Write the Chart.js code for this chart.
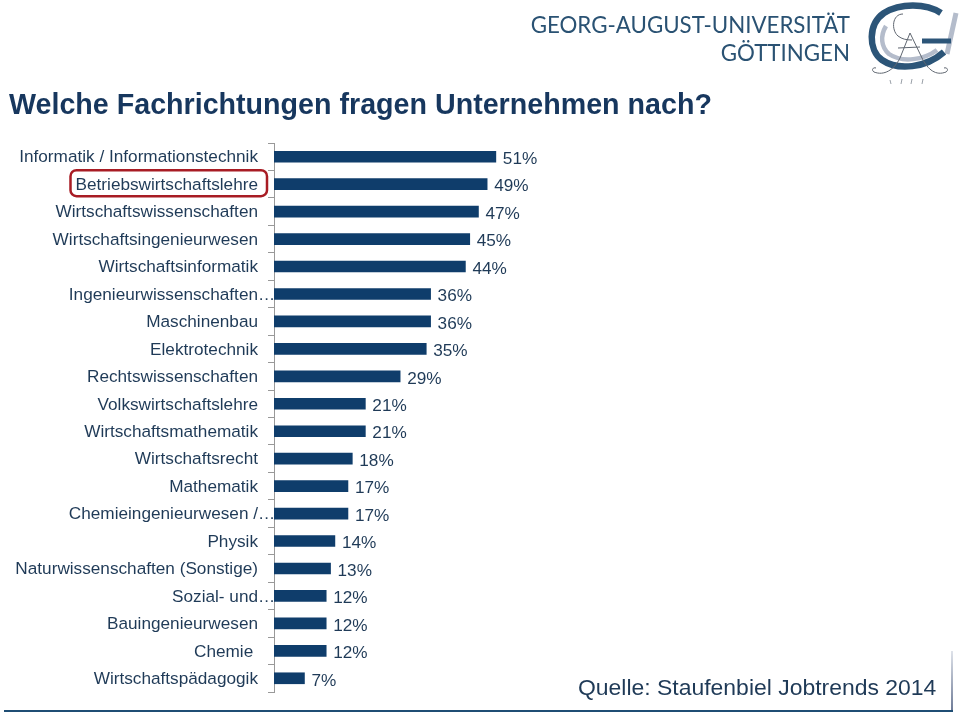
<!DOCTYPE html>
<html><head><meta charset="utf-8">
<script src="https://cdn.jsdelivr.net/npm/chart.js@4"></script>
<style>
html,body{margin:0;padding:0;background:#fff;width:960px;height:717px;overflow:hidden}
#wrap{position:absolute;left:0;top:0;width:960px;height:717px}
.t{position:absolute;white-space:nowrap;font-family:"Liberation Sans",Arial,sans-serif;line-height:1}
#title{left:9px;top:90px;font-size:28.65px;font-weight:bold;color:#17375e}
#src{left:578px;top:676px;font-size:22.95px;color:#1f3a57}
.uni{font-family:Lato,"Open Sans",sans-serif;color:#2a5273;text-align:right;right:110px}
#frameR{position:absolute;left:951px;top:651px;width:2px;height:60px;background:linear-gradient(#dfe3ea,#6d7a96)}
#frameB{position:absolute;left:4px;top:710px;width:949px;height:2px;background:#1f4e74}
svg{position:absolute;left:860px;top:0}
</style></head><body>
<div id="wrap"><canvas id="c" width="960" height="717"></canvas></div>
<div class="t" id="title">Welche Fachrichtungen fragen Unternehmen nach?</div>
<div class="t" id="src">Quelle: Staufenbiel Jobtrends 2014</div>
<div class="t uni" style="top:14px;font-size:22.3px">GEORG-AUGUST-UNIVERSITÄT</div>
<div class="t uni" style="top:42px;font-size:22.3px">GÖTTINGEN</div>
<svg width="100" height="90" viewBox="0 0 100 90" fill="none">
<path d="M26 26 C20 36 21 47 29 54 C42 63 64 60 77 50" stroke="#b4bccb" stroke-width="4.5"/>
<path d="M96 13 L87 54" stroke="#b4bccb" stroke-width="5"/>
<path d="M81 13 C66 3 40 3 24 13 C8 24 8 50 22 60 C38 71 66 68 84 52" stroke="#2c5578" stroke-width="6.5"/>
<path d="M62 41 L91 41" stroke="#2c5578" stroke-width="5"/>
<path d="M43 14 C32 14 31 30 38 36 C42 39 46 40 52 40 M50 33 L40 58 C34 70 24 76 14 72 C11 70 13 67 16 68 M50 33 L62 58 C68 70 76 76 86 72 C89 70 87 67 84 68 M38 48 L60 47" stroke="#5f6670" stroke-width="1"/>
<path d="M30 80 L31 84 M42 79 L41 84 M52 79 L51 84 M63 79 L62 84" stroke="#9aa0a8" stroke-width="1"/>
</svg>
<div id="frameR"></div><div id="frameB"></div>
<script>
const categories = ["Informatik / Informationstechnik","Betriebswirtschaftslehre","Wirtschaftswissenschaften","Wirtschaftsingenieurwesen","Wirtschaftsinformatik","Ingenieurwissenschaften…","Maschinenbau","Elektrotechnik","Rechtswissenschaften","Volkswirtschaftslehre","Wirtschaftsmathematik","Wirtschaftsrecht","Mathematik","Chemieingenieurwesen /…","Physik","Naturwissenschaften (Sonstige)","Sozial- und…","Bauingenieurwesen","Chemie ","Wirtschaftspädagogik"];
const values = [51,49,47,45,44,36,36,35,29,21,21,18,17,17,14,13,12,12,12,7];
const highlighted = "Betriebswirtschaftslehre";
const textColor = "#1f3a57", barColor = "#0f3d6b", axisColor = "#999999";
const FONT = '"Liberation Sans", Arial, sans-serif';
const overlay = {
  id:'overlay',
  afterDatasetsDraw(chart){
    const {ctx,scales:{x,y}} = chart;
    ctx.save();
    ctx.font = '17.2px '+FONT;
    ctx.textBaseline='middle';
    ctx.fillStyle=textColor;
    ctx.textAlign='left';
    values.forEach((v,i)=>ctx.fillText(v+'%', x.getPixelForValue(v)+7, y.getPixelForValue(i)+2.5));
    categories.forEach((c,i)=>{ if(c.endsWith('…')){
      const w=ctx.measureText(c.slice(0,-1)).width;
      ctx.fillText(c, 258-w, y.getPixelForValue(i)+1);
    }});
    const yc=y.getPixelForValue(categories.indexOf(highlighted));
    ctx.strokeStyle='#a81c24'; ctx.lineWidth=2.5;
    ctx.beginPath(); ctx.roundRect(70.5,yc-14,196.5,26,6); ctx.stroke();
    ctx.restore();
  }
};
new Chart(document.getElementById('c'),{
  type:'bar',
  data:{labels:categories,datasets:[{data:values,backgroundColor:barColor,barThickness:11,borderWidth:0}]},
  options:{
    indexAxis:'y',responsive:false,animation:false,
    layout:{padding:{left:0,top:143,right:251,bottom:25}},
    plugins:{legend:{display:false},tooltip:{enabled:false},title:{display:false}},
    scales:{
      x:{display:false,min:0,max:100},
      y:{
        afterFit(s){s.width=274;},
        grid:{display:true,drawOnChartArea:false,drawTicks:true,tickLength:6,color:axisColor,lineWidth:1},
        border:{display:true,color:axisColor,width:1},
        ticks:{autoSkip:false,padding:10,labelOffset:1,color:textColor,font:{size:17.2,family:FONT},
          callback(v){const l=this.getLabelForValue(v);return l.endsWith('…')?'':l;}}
      }
    }
  },
  plugins:[overlay]
});
</script>
</body></html>
